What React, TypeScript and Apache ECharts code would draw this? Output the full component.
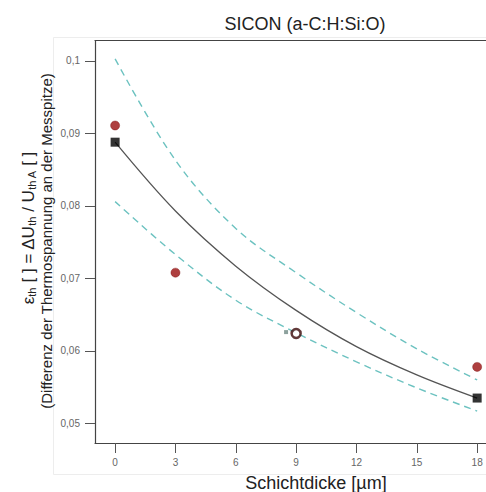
import React, { useEffect, useRef } from "react";
import * as echarts from "echarts";

// ---- data ----
const xTicks = [0, 3, 6, 9, 12, 15, 18];
const yTicks = [0.05, 0.06, 0.07, 0.08, 0.09, 0.1];

const curveX = [0, 3, 6, 9, 12, 15, 18];
const fitCurve = [0.0888, 0.0793, 0.0717, 0.0656, 0.0606, 0.0567, 0.0535];
const upperBand = [0.1003, 0.0863, 0.0769, 0.0708, 0.0653, 0.0603, 0.056];
const lowerBand = [0.0806, 0.0733, 0.067, 0.0625, 0.0585, 0.0549, 0.0517];

const redX = [0, 3, 18];
const redY = [0.0911, 0.0708, 0.0578];
const hollowX = [9];
const hollowY = [0.0624];
const squareX = [0, 18];
const squareY = [0.0888, 0.0535];
const smallX = [8.5];
const smallY = [0.0626];

const titleText = "SICON (a-C:H:Si:O)";
const xName = "Schichtdicke [µm]";
const yName2 = "(Differenz der Thermospannung an der Messpitze)";

const FONT = "'Liberation Sans', Arial, sans-serif";

const zip = (xs: number[], ys: number[]) => xs.map((x, i) => [x, ys[i]]);

export default function App() {
  const ref = useRef<HTMLDivElement>(null);
  useEffect(() => {
    if (!ref.current) return;
    const chart = echarts.init(ref.current, undefined, { renderer: "svg" });
    const fmt = (v: number) => String(+v.toFixed(2)).replace(".", ",");
    chart.setOption({
      animation: false,
      backgroundColor: "#ffffff",
      title: {
        text: titleText,
        left: 305,
        top: 15,
        padding: 0,
        textAlign: "center",
        textStyle: { fontSize: 18, fontWeight: "normal", color: "#222", fontFamily: FONT },
      },
      grid: { left: 95, right: 0, top: 40.7, bottom: 49 },
      xAxis: [
        {
          type: "value",
          min: -1,
          max: 18.44,
          axisLine: { show: true, lineStyle: { color: "#444", width: 1.2 } },
          axisTick: { show: true, length: 10, customValues: xTicks, lineStyle: { color: "#555", width: 1 } },
          axisLabel: { customValues: xTicks, margin: 14, fontSize: 10, color: "#666", fontFamily: FONT },
          splitLine: { show: false },
        },
        {
          type: "value",
          position: "top",
          min: -1,
          max: 18.44,
          axisLine: { show: true, onZero: false, lineStyle: { color: "#444", width: 1.2 } },
          axisTick: { show: false },
          axisLabel: { show: false },
          splitLine: { show: false },
        },
      ],
      yAxis: {
        type: "value",
        min: 0.0473,
        max: 0.1028,
        axisLine: { show: true, onZero: false, lineStyle: { color: "#444", width: 1.2 } },
        axisTick: { show: true, length: 10, customValues: yTicks, lineStyle: { color: "#555", width: 1 } },
        axisLabel: { customValues: yTicks, margin: 15, fontSize: 10, color: "#666", fontFamily: FONT, formatter: fmt },
        splitLine: { show: false },
      },
      graphic: [
        {
          type: "rect",
          silent: true,
          shape: { x: 53.5, y: 37.5, width: 440, height: 437 },
          style: { fill: "none", stroke: "#ededed", lineWidth: 1 },
          z: -1,
        },
        {
          type: "text",
          x: 316,
          y: 483,
          style: {
            text: xName,
            fontSize: 18,
            fontFamily: FONT,
            fill: "#222",
            textAlign: "center",
            textVerticalAlign: "middle",
          },
        },
        {
          type: "text",
          x: 27,
          y: 228,
          rotation: Math.PI / 2,
          style: {
            text: "{n|ε}{s|th}{n| [ ] = ΔU}{s|th}{n| / U}{s|th A}{n| [ ]}",
            fontFamily: FONT,
            fill: "#222",
            textAlign: "center",
            textVerticalAlign: "middle",
            rich: {
              n: { fontSize: 17, lineHeight: 20, fontFamily: FONT, fill: "#222", verticalAlign: "bottom" },
              s: { fontSize: 11, lineHeight: 11, fontFamily: FONT, fill: "#222", verticalAlign: "bottom" },
            },
          },
        },
        {
          type: "text",
          x: 46,
          y: 241,
          rotation: Math.PI / 2,
          style: {
            text: yName2,
            fontSize: 15,
            fontFamily: FONT,
            fill: "#222",
            textAlign: "center",
            textVerticalAlign: "middle",
          },
        },
      ],
      series: [
        {
          type: "line",
          data: zip(curveX, upperBand),
          smooth: 0.35,
          showSymbol: false,
          lineStyle: { color: "#6cc2c0", width: 1.4, type: [7, 5] },
          z: 2,
        },
        {
          type: "line",
          data: zip(curveX, lowerBand),
          smooth: 0.35,
          showSymbol: false,
          lineStyle: { color: "#6cc2c0", width: 1.4, type: [7, 5] },
          z: 2,
        },
        {
          type: "line",
          data: zip(curveX, fitCurve),
          smooth: 0.35,
          showSymbol: false,
          lineStyle: { color: "#555", width: 1.3 },
          z: 3,
        },
        {
          type: "scatter",
          data: zip(redX, redY),
          symbol: "circle",
          symbolSize: 9,
          itemStyle: { color: "#9a0f0f", borderColor: "#7a0a0a", borderWidth: 0.5 },
          z: 5,
        },
        {
          type: "scatter",
          data: zip(smallX, smallY),
          symbol: "rect",
          symbolSize: 4,
          itemStyle: { color: "#6f8a84" },
          z: 5,
        },
        {
          type: "scatter",
          data: zip(hollowX, hollowY),
          symbol: "circle",
          symbolSize: 9,
          itemStyle: { color: "#ffffff", borderColor: "#3a0808", borderWidth: 2.5 },
          z: 6,
        },
        {
          type: "scatter",
          data: zip(squareX, squareY),
          symbol: "rect",
          symbolSize: 9,
          itemStyle: { color: "#000000" },
          z: 6,
        },
      ],
    });
    return () => chart.dispose();
  }, []);
  return (
    <div
      ref={ref}
      style={{ position: "fixed", left: 0, top: 0, width: 486, height: 492 }}
    />
  );
}
